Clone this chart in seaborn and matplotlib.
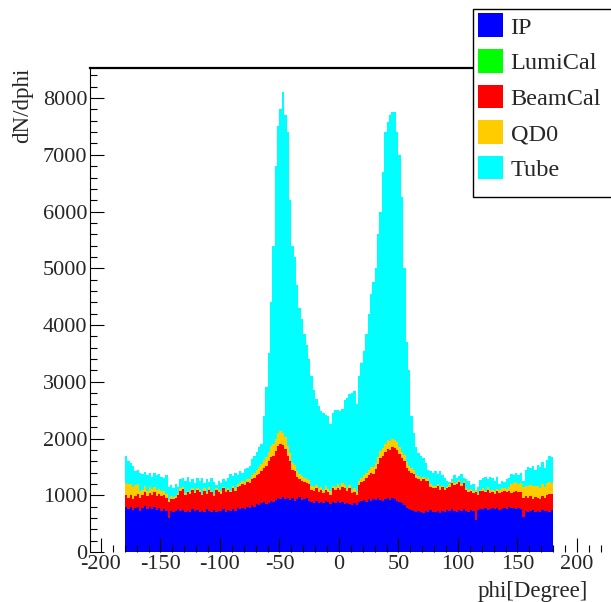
import numpy as np
import pandas as pd
import matplotlib
matplotlib.use("Agg")
import matplotlib.pyplot as plt
import seaborn as sns
from matplotlib.patches import Patch, Rectangle
from matplotlib.ticker import MultipleLocator

# 2 degree bins from -180 to 180
phi_centers = np.arange(-179, 180, 2)

# stack tops (cumulative, like a THStack), one row = 20 degrees
ip_level = [
    800, 760, 790, 740, 770, 800, 720, 780, 810, 760,
    790, 750, 800, 740, 770, 730, 760, 720, 600, 720,
    700, 730, 760, 720, 740, 700, 730, 710, 750, 720,
    740, 700, 730, 710, 750, 720, 700, 740, 710, 730,
    720, 750, 700, 740, 720, 760, 730, 770, 750, 780,
    760, 800, 780, 820, 800, 850, 830, 860, 880, 850,
    870, 900, 880, 920, 950, 930, 970, 940, 960, 920,
    950, 900, 930, 970, 920, 940, 960, 900, 880, 860,
    900, 870, 890, 860, 900, 880, 850, 890, 870, 900,
    860, 880, 840, 870, 850, 820, 860, 830, 880, 900,
    920, 890, 930, 900, 940, 910, 950, 920, 900, 940,
    960, 920, 950, 930, 900, 880, 860, 830, 780, 750,
    740, 720, 700, 730, 710, 690, 720, 700, 740, 710,
    700, 720, 690, 730, 710, 740, 720, 750, 730, 700,
    740, 720, 750, 730, 700, 740, 720, 560, 740, 760,
    750, 770, 740, 760, 780, 750, 770, 740, 760, 780,
    760, 790, 770, 780, 760, 780, 750, 620, 720, 700,
    720, 740, 700, 730, 710, 740, 720, 730, 700, 740,
]

# LumiCal adds nothing visible on top of IP
lumical = np.zeros(len(phi_centers))

beamcal_level = [
    1000, 960, 1000, 940, 980, 1020, 960, 1000, 1050, 980,
    1040, 1000, 1060, 990, 1030, 980, 1010, 960, 880, 940,
    930, 960, 1000, 1080, 1110, 1000, 1050, 1020, 1090, 1040,
    1100, 1060, 1000, 1080, 1030, 1100, 1050, 980, 1100, 1060,
    1030, 1120, 1060, 1090, 1050, 1120, 1080, 1140, 1160, 1200,
    1180, 1230, 1210, 1280, 1300, 1350, 1380, 1420, 1480, 1520,
    1600, 1680, 1700, 1780, 1860, 1900, 1880, 1820, 1700, 1600,
    1450, 1420, 1320, 1280, 1250, 1230, 1210, 1190, 1100, 1080,
    1120, 1060, 1090, 1040, 1100, 1060, 1010, 1120, 1090, 1130,
    1100, 1150, 1120, 1070, 1130, 1040, 1060, 1000, 1180, 1230,
    1260, 1300, 1350, 1400, 1380, 1460, 1550, 1650, 1700, 1760,
    1820, 1800, 1850, 1830, 1800, 1720, 1650, 1600, 1480, 1430,
    1400, 1380, 1300, 1290, 1260, 1280, 1250, 1260, 1150, 1130,
    1120, 1170, 1100, 1140, 1090, 1120, 1150, 1220, 1180, 1200,
    1230, 1170, 1210, 1090, 1060, 1080, 1040, 1060, 1000, 1070,
    1080, 1050, 1100, 1040, 1060, 1020, 1070, 1040, 1060, 1080,
    1050, 1070, 1040, 1060, 1080, 1050, 1060, 950, 980, 950,
    980, 940, 970, 960, 930, 980, 950, 1000, 1030, 1020,
]

qd0_level = [
    1220, 1190, 1200, 1150, 1180, 1200, 1080, 1100, 1160, 1070,
    1140, 1110, 1150, 1090, 1110, 1070, 1080, 1020, 920, 980,
    970, 990, 1040, 1120, 1140, 1040, 1080, 1060, 1120, 1080,
    1130, 1100, 1030, 1120, 1060, 1140, 1080, 1020, 1130, 1100,
    1070, 1150, 1100, 1130, 1080, 1160, 1120, 1190, 1210, 1260,
    1240, 1290, 1280, 1360, 1390, 1450, 1490, 1550, 1620, 1670,
    1770, 1870, 1900, 2000, 2090, 2130, 2100, 2020, 1870, 1740,
    1570, 1530, 1420, 1370, 1340, 1310, 1290, 1270, 1170, 1150,
    1180, 1120, 1150, 1090, 1160, 1110, 1070, 1170, 1150, 1190,
    1150, 1210, 1180, 1130, 1180, 1100, 1130, 1060, 1260, 1310,
    1350, 1390, 1450, 1500, 1490, 1570, 1670, 1780, 1840, 1910,
    1970, 1960, 2000, 1980, 1940, 1850, 1770, 1710, 1580, 1520,
    1480, 1450, 1360, 1340, 1310, 1320, 1290, 1300, 1190, 1160,
    1160, 1200, 1140, 1170, 1130, 1150, 1190, 1250, 1220, 1230,
    1270, 1200, 1250, 1120, 1100, 1110, 1080, 1090, 1040, 1100,
    1120, 1080, 1140, 1090, 1100, 1070, 1110, 1090, 1120, 1130,
    1110, 1140, 1190, 1220, 1230, 1190, 1220, 1150, 1170, 1160,
    1180, 1160, 1160, 1170, 1130, 1200, 1150, 1210, 1230, 1220,
]

tube_level = [
    1700, 1600, 1560, 1520, 1420, 1440, 1400, 1380, 1410, 1350,
    1390, 1320, 1400, 1350, 1370, 1330, 1300, 1360, 1150, 1180,
    1120, 1200, 1150, 1290, 1310, 1250, 1330, 1240, 1280, 1220,
    1300, 1250, 1310, 1210, 1280, 1230, 1300, 1240, 1180, 1260,
    1220, 1290, 1250, 1300, 1380, 1340, 1400, 1350, 1420, 1400,
    1460, 1480, 1520, 1640, 1700, 1760, 1850, 1900, 2400, 2900,
    3500, 4400, 5400, 6800, 7500, 7800, 8100, 7700, 7400, 6200,
    5400, 5200, 4700, 4300, 4100, 3850, 3650, 3400, 3100, 2850,
    2700, 2580, 2480, 2450, 2420, 2400, 2250, 2450, 2500, 2500,
    2480, 2520, 2680, 2720, 2780, 2800, 2830, 2600, 3100, 3330,
    3550, 3850, 4200, 4550, 4750, 5000, 5600, 6000, 6700, 7400,
    7580, 7700, 7750, 7750, 7400, 7000, 6250, 5000, 3700, 3200,
    2400, 2100, 1850, 1750, 1700, 1650, 1560, 1450, 1420, 1400,
    1420, 1380, 1420, 1350, 1300, 1260, 1240, 1280, 1360, 1300,
    1340, 1380, 1300, 1280, 1250, 1180, 1200, 1100, 1150, 1270,
    1300, 1320, 1280, 1330, 1300, 1250, 1320, 1200, 1260, 1240,
    1280, 1300, 1380, 1360, 1400, 1360, 1390, 1250, 1450, 1500,
    1480, 1520, 1450, 1540, 1500, 1580, 1480, 1620, 1700, 1680,
]

lumical_level = np.array(ip_level) + lumical

names = ["IP", "LumiCal", "BeamCal", "QD0", "Tube"]
colors = ["#0000ff", "#00ff00", "#ff0000", "#ffcc00", "#00ffff"]
levels = [ip_level, lumical_level, beamcal_level, qd0_level, tube_level]

sns.set_style("white")
plt.rcParams['font.family'] = ['Liberation Serif', 'DejaVu Serif']
plt.rcParams['axes.unicode_minus'] = False

fig = plt.figure(figsize=(6.11, 6.02), dpi=100)
ax = fig.add_axes([90 / 611, 50 / 602, 521 / 611, 484 / 602])

# draw the tallest stack first, each lower layer painted on top
for level, color in zip(levels[::-1], colors[::-1]):
    df = pd.DataFrame({"phi": phi_centers, "count": np.asarray(level, dtype=float)})
    sns.histplot(data=df, x="phi", weights="count", binwidth=2, binrange=(-180, 180),
                 element="step", fill=True, color=color, alpha=1, linewidth=0, ax=ax)

ax.set_xlim(-209.2, 228.6)
ax.set_ylim(0, 8530)
ax.xaxis.set_major_locator(MultipleLocator(50))
ax.xaxis.set_minor_locator(MultipleLocator(10))
ax.yaxis.set_major_locator(MultipleLocator(1000))
ax.yaxis.set_minor_locator(MultipleLocator(200))
ax.set_axisbelow(False)
ax.tick_params(which='both', direction='in', top=False, right=False,
               bottom=True, left=True, color='black', width=0.8)
ax.tick_params(which='major', length=10, labelsize=16)
ax.tick_params(axis='x', which='major', pad=2)
ax.tick_params(axis='y', which='major', pad=2)
ax.tick_params(which='minor', length=5)

ax.spines['right'].set_visible(False)
ax.spines['bottom'].set_visible(False)
ax.spines['top'].set_linewidth(1.6)
ax.spines['top'].set_color('black')
ax.spines['left'].set_linewidth(0.8)
ax.spines['left'].set_color('black')

ax.set_ylabel('dN/dphi', fontsize=16.5, loc='top')
ax.yaxis.set_label_coords((33 - 90) / 521, 1.0)
ax.set_xlabel('phi[Degree]', fontsize=16.5, loc='right')
ax.xaxis.set_label_coords((588 - 90) / 521, (552 - 581) / 484)

# legend box, runs off the right edge like the original
fig.add_artist(Rectangle((473 / 611, 1 - 197 / 602), 0.4, 188 / 602,
                         transform=fig.transFigure, facecolor='white',
                         edgecolor='black', linewidth=1, zorder=5))
handles = [Patch(facecolor=c, edgecolor='none') for c in colors]
leg = fig.legend(handles, names, loc='upper left',
                 bbox_to_anchor=(478 / 611, 1 - 13.5 / 602),
                 frameon=False, fontsize=17.5, handlelength=1.04, handleheight=1.12,
                 handletextpad=0.3, labelspacing=0.43, borderpad=0,
                 borderaxespad=0)
leg.set_zorder(6)

fig.savefig('out.png', dpi=100)
